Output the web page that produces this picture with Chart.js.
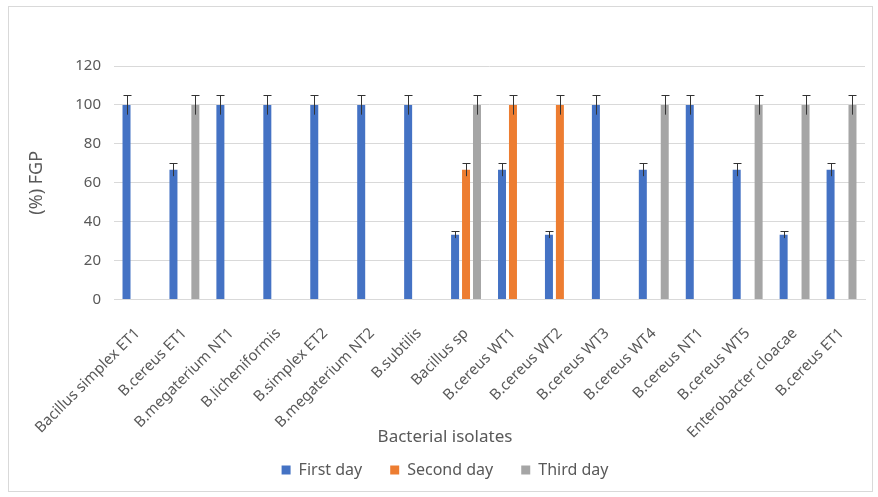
<!DOCTYPE html>
<html>
<head>
<meta charset="utf-8">
<script src="https://cdn.jsdelivr.net/npm/chart.js@4.4.0/dist/chart.umd.min.js"></script>
<style>
  body { margin: 0; background: #fff; }
  #box { position: absolute; left: 8px; top: 6px; width: 863px; height: 484px; border: 1px solid #d9d9d9; }
</style>
</head>
<body>
<div id="box"><canvas id="fgpChart" width="863" height="484"></canvas></div>
<script>
// isolates on the x axis
const isolates = ['Bacillus simplex ET1', 'B.cereus ET1', 'B.megaterium NT1', 'B.licheniformis',
  'B.simplex ET2', 'B.megaterium NT2', 'B.subtilis', 'Bacillus sp', 'B.cereus WT1', 'B.cereus WT2',
  'B.cereus WT3', 'B.cereus WT4', 'B.cereus NT1', 'B.cereus WT5', 'Enterobacter cloacae', 'B.cereus ET1'];

// % FGP per day (null = no bar)
const firstDay  = [100, 66.7, 100, 100, 100, 100, 100, 33.3, 66.7, 33.3, 100, 66.7, 100, 66.7, 33.3, 66.7];
const secondDay = [null, null, null, null, null, null, null, 66.7, 100, 100, null, null, null, null, null, null];
const thirdDay  = [null, 100, null, null, null, null, null, 100, null, null, null, 100, null, 100, 100, 100];

// error bar sizes
const firstErr  = [5, 3.3, 5, 5, 5, 5, 5, 1.7, 3.3, 1.7, 5, 3.3, 5, 3.3, 1.7, 3.3];
const secondErr = [null, null, null, null, null, null, null, 3.3, 5, 5, null, null, null, null, null, null];
const thirdErr  = [null, 5, null, null, null, null, null, 5, null, null, null, 5, null, 5, 5, 5];

const yTicks = [0, 20, 40, 60, 80, 100, 120];

const textColor = '#595959';
const gridColor = '#d9d9d9';

// draws the error bars on top of each bar
const errorBars = {
  id: 'errorBars',
  beforeDraw(chart) {
    // let the long rotated labels run past the axis box instead of being clipped
    chart.scales.x.bottom = chart.height;
  },
  afterDatasetsDraw(chart) {
    const ctx = chart.ctx;
    const y = chart.scales.y;
    ctx.save();
    ctx.strokeStyle = '#333333';
    ctx.lineWidth = 1;
    chart.data.datasets.forEach((ds, i) => {
      const meta = chart.getDatasetMeta(i);
      meta.data.forEach((bar, j) => {
        const v = ds.data[j];
        const e = ds.errors[j];
        if (v == null || e == null) return;
        const x = Math.round(bar.x) + 0.5;
        const top = Math.round(y.getPixelForValue(v + e)) + 0.5;
        const bot = y.getPixelForValue(v - e);
        ctx.beginPath();
        ctx.moveTo(x, bot);
        ctx.lineTo(x, top);
        ctx.moveTo(x - 4, top);
        ctx.lineTo(x + 4, top);
        ctx.stroke();
      });
    });
    ctx.restore();
  }
};

new Chart(document.getElementById('fgpChart'), {
  type: 'bar',
  data: {
    labels: isolates,
    datasets: [
      { label: 'First day', data: firstDay, errors: firstErr, backgroundColor: '#4472c4' },
      { label: 'Second day', data: secondDay, errors: secondErr, backgroundColor: '#ed7d31' },
      { label: 'Third day', data: thirdDay, errors: thirdErr, backgroundColor: '#a5a5a5' }
    ]
  },
  options: {
    responsive: false,
    animation: false,
    categoryPercentage: 0.70,
    barPercentage: 0.73,
    layout: { padding: { top: 59, right: 7, bottom: 4, left: 16 } },
    plugins: {
      tooltip: { enabled: false },
      // x axis title, centred on the whole chart like the original
      title: {
        display: true,
        position: 'bottom',
        weight: 500,
        text: 'Bacterial isolates',
        color: textColor,
        font: { family: 'Noto Sans', size: 17, weight: 'normal' },
        padding: { top: -7, bottom: -13 }
      },
      legend: {
        position: 'bottom',
        maxHeight: 53,
        labels: {
          color: textColor,
          font: { family: 'Noto Sans', size: 16 },
          boxWidth: 9,
          boxHeight: 9,
          padding: 28
        }
      }
    },
    scales: {
      x: {
        grid: { display: false },
        border: { color: gridColor },
        ticks: {
          color: textColor,
          font: { family: 'Noto Sans', size: 15 },
          minRotation: 45,
          maxRotation: 45,
          autoSkip: false,
          padding: 17
        },
        afterFit(scale) { scale.height = 134; }
      },
      y: {
        min: 0,
        max: 120,
        afterBuildTicks(scale) { scale.ticks = yTicks.map(v => ({ value: v })); },
        grid: { color: gridColor, drawTicks: false },
        border: { display: false },
        ticks: {
          color: textColor,
          font: { family: 'Noto Sans', size: 15 },
          padding: 13
        },
        title: {
          display: true,
          text: '(%) FGP',
          color: textColor,
          font: { family: 'Noto Sans', size: 18 },
          padding: { top: 1, bottom: 0 }
        },
        afterFit(scale) { scale.width = 89; }
      }
    }
  },
  plugins: [errorBars]
});
</script>
</body>
</html>
